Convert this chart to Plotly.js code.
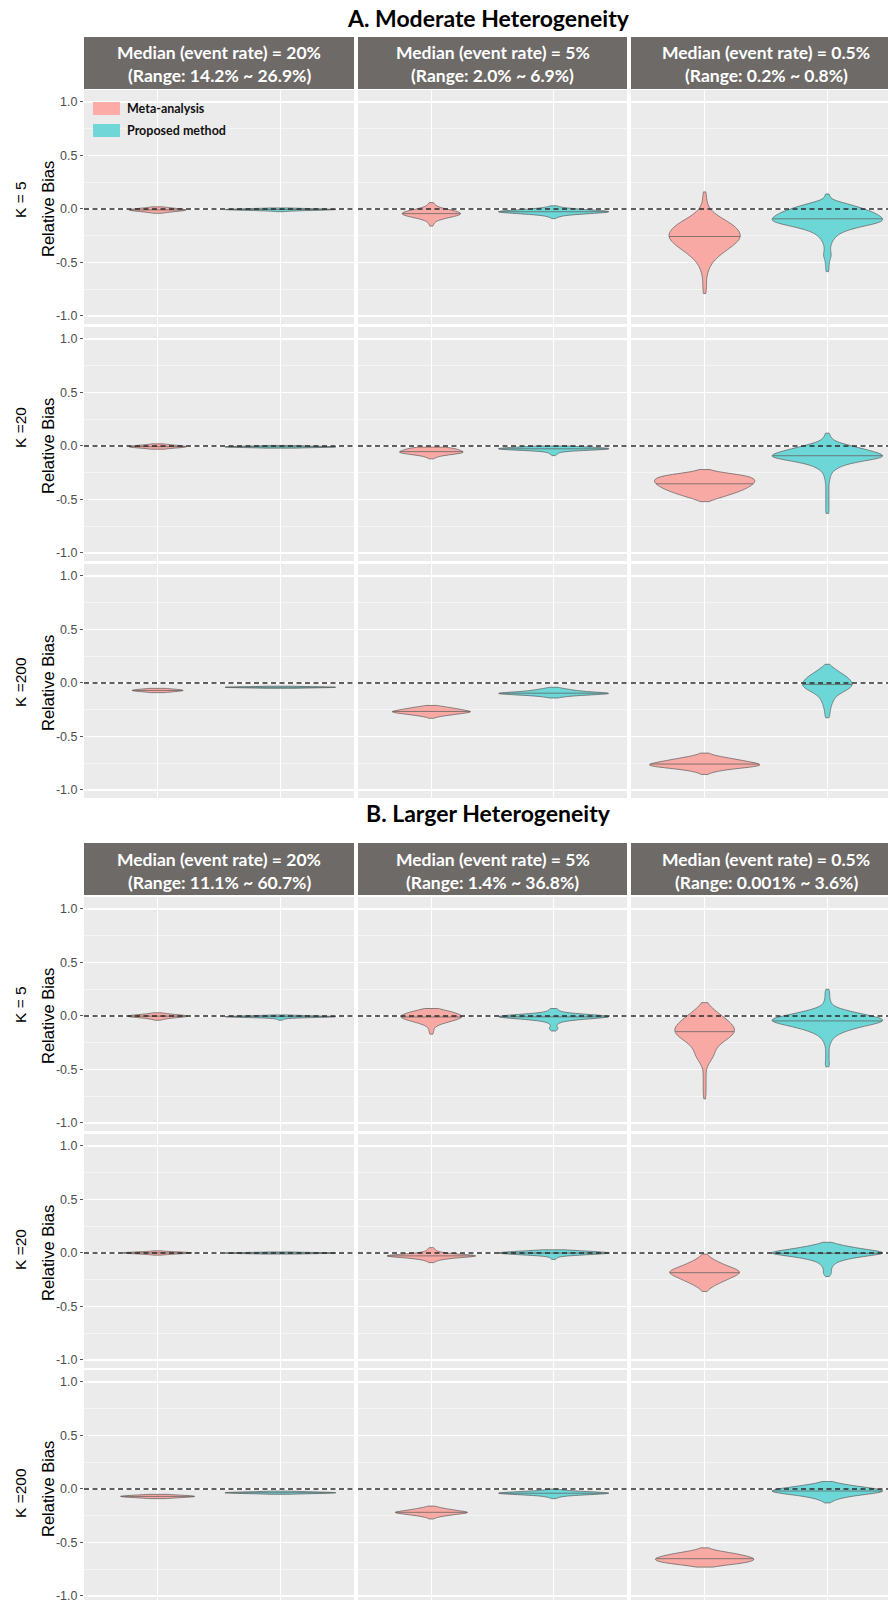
<!DOCTYPE html>
<html><head><meta charset="utf-8">
<script src="https://cdn.plot.ly/plotly-3.0.1.min.js"></script>
<style>html,body{margin:0;padding:0;background:#fff;} #chart{width:888px;height:1600px;}</style>
</head><body><div id="chart"></div>
<script>
// ---------------- data ----------------
const sectionTitles = ["A. Moderate Heterogeneity", "B. Larger Heterogeneity"];
const stripLine1 = ["Median (event rate) = 20%", "Median (event rate) = 5%", "Median (event rate) = 0.5%"];
const stripLine2Moderate = ["(Range: 14.2% ~ 26.9%)", "(Range: 2.0% ~ 6.9%)", "(Range: 0.2% ~ 0.8%)"];
const stripLine2Larger = ["(Range: 11.1% ~ 60.7%)", "(Range: 1.4% ~ 36.8%)", "(Range: 0.001% ~ 3.6%)"];
const rowLabels = ["K = 5", "K =20", "K =200"];
const methods = ["Meta-analysis", "Proposed method"];
const yAxisLabel = "Relative Bias";
const yTickVals = [-1, -0.5, 0, 0.5, 1];
const yTickText = ["-1.0", "-0.5", "0.0", "0.5", "1.0"];
const yMinorVals = [-0.75, -0.25, 0.25, 0.75];
const methodPos = [1, 2];

// Relative-bias distributions (value levels + counts).
// Panels in row order: (K=5, K=20, K=200) x (20%, 5%, 0.5%).
const moderateMetaLevels = [
  [0.02, 0.01, 0.0, -0.01, -0.02, -0.03, -0.04],
  [0.06, 0.04, 0.02, 0.0, -0.02, -0.04, -0.06, -0.08, -0.10, -0.12, -0.14, -0.16],
  [0.16, 0.11, 0.06, 0.01, -0.04, -0.09, -0.14, -0.19, -0.24, -0.29, -0.34, -0.39, -0.44, -0.49, -0.54, -0.59, -0.64, -0.69, -0.74, -0.79],
  [0.02, 0.01, 0.0, -0.01, -0.02, -0.03],
  [-0.01, -0.02, -0.03, -0.04, -0.05, -0.06, -0.07, -0.08, -0.09, -0.10, -0.11, -0.12],
  [-0.22, -0.245, -0.27, -0.295, -0.32, -0.345, -0.37, -0.395, -0.42, -0.445, -0.47, -0.495, -0.52],
  [-0.05, -0.06, -0.07, -0.08, -0.09],
  [-0.21, -0.22, -0.23, -0.24, -0.25, -0.26, -0.27, -0.28, -0.29, -0.30, -0.31, -0.32, -0.33],
  [-0.655, -0.675, -0.695, -0.715, -0.735, -0.755, -0.775, -0.795, -0.815, -0.835, -0.855]
];
const moderateMetaCounts = [
  [6, 20, 40, 50, 35, 15, 5],
  [4, 6, 10, 25, 45, 55, 50, 30, 14, 6, 4, 3],
  [3, 4, 5, 9, 20, 38, 60, 72, 80, 76, 62, 46, 30, 18, 11, 7, 4, 4, 4, 3],
  [6, 20, 45, 50, 25, 6],
  [25, 38, 45, 50, 55, 58, 50, 35, 20, 12, 7, 4],
  [6, 22, 70, 85, 90, 88, 82, 74, 64, 50, 36, 20, 5],
  [10, 40, 60, 35, 8],
  [8, 20, 32, 42, 52, 62, 70, 58, 44, 30, 18, 8, 3],
  [6, 14, 35, 55, 75, 95, 103, 60, 30, 12, 4]
];
const moderateProposedLevels = [
  [0.01, 0.005, 0.0, -0.005, -0.01, -0.015, -0.02, -0.025],
  [0.03, 0.02, 0.01, 0.0, -0.01, -0.02, -0.03, -0.04, -0.05, -0.06, -0.07, -0.08, -0.09],
  [0.14, 0.115, 0.09, 0.065, 0.04, 0.015, -0.01, -0.035, -0.06, -0.085, -0.11, -0.135, -0.16, -0.185, -0.21,
   -0.235, -0.26, -0.285, -0.31, -0.335, -0.36, -0.385, -0.41, -0.435, -0.46, -0.485, -0.51, -0.535, -0.56, -0.585],
  [0.005, 0.0, -0.005, -0.01, -0.015, -0.02],
  [0.0, -0.01, -0.02, -0.03, -0.04, -0.05, -0.06, -0.07, -0.08, -0.09],
  [0.12, 0.095, 0.07, 0.045, 0.02, -0.005, -0.03, -0.055, -0.08, -0.105, -0.13, -0.155, -0.18, -0.205, -0.23, -0.255,
   -0.28, -0.305, -0.33, -0.355, -0.38, -0.405, -0.43, -0.455, -0.48, -0.505, -0.53, -0.555, -0.58, -0.605, -0.63],
  [-0.03, -0.035, -0.04, -0.045, -0.05],
  [-0.04, -0.05, -0.06, -0.07, -0.08, -0.09, -0.10, -0.11, -0.12, -0.13, -0.14],
  [0.175, 0.15, 0.125, 0.1, 0.075, 0.05, 0.025, 0.0, -0.025, -0.05, -0.075, -0.1, -0.125, -0.15, -0.175, -0.2, -0.225, -0.25, -0.275, -0.3, -0.325]
];
const moderateProposedCounts = [
  [10, 40, 90, 110, 80, 40, 15, 5],
  [5, 10, 20, 40, 70, 95, 100, 70, 40, 20, 10, 6, 3],
  [4, 5, 7, 25, 45, 62, 78, 90, 100, 106, 110, 95, 70, 48, 32, 22, 16, 12, 9, 7, 6, 6, 7, 8, 6, 4, 4, 3, 3, 3],
  [10, 50, 100, 110, 60, 20],
  [20, 70, 100, 110, 60, 20, 10, 8, 5, 3],
  [4, 5, 8, 14, 30, 50, 70, 90, 105, 110, 80, 50, 30, 20, 12, 8, 6, 5, 4, 3, 3, 3, 3, 3, 3, 3, 3, 3, 3, 3, 3],
  [10, 50, 110, 55, 10],
  [6, 15, 25, 35, 50, 80, 103, 60, 30, 15, 5],
  [3, 8, 14, 20, 27, 33, 37, 40, 40, 36, 28, 20, 14, 11, 9, 7, 6, 5, 4, 4, 3]
];
const largerMetaLevels = [
  [0.03, 0.02, 0.01, 0.0, -0.01, -0.02, -0.03, -0.04],
  [0.07, 0.05, 0.03, 0.01, -0.01, -0.03, -0.05, -0.07, -0.09, -0.11, -0.13, -0.15, -0.17],
  [0.125, 0.075, 0.025, -0.025, -0.075, -0.125, -0.175, -0.225, -0.275, -0.325, -0.375, -0.425, -0.475, -0.525, -0.575, -0.625, -0.675, -0.725, -0.775],
  [0.02, 0.015, 0.01, 0.005, 0.0, -0.005, -0.01, -0.015, -0.02],
  [0.05, 0.04, 0.03, 0.02, 0.01, 0.0, -0.01, -0.02, -0.03, -0.04, -0.05, -0.06, -0.07, -0.08, -0.09],
  [-0.01, -0.035, -0.06, -0.085, -0.11, -0.135, -0.16, -0.185, -0.21, -0.235, -0.26, -0.285, -0.31, -0.335, -0.36],
  [-0.05, -0.06, -0.07, -0.08, -0.09],
  [-0.16, -0.17, -0.18, -0.19, -0.20, -0.21, -0.22, -0.23, -0.24, -0.25, -0.26, -0.27, -0.28],
  [-0.55, -0.57, -0.59, -0.61, -0.63, -0.65, -0.67, -0.69, -0.71, -0.73]
];
const largerMetaCounts = [
  [5, 15, 35, 55, 40, 20, 8, 4],
  [10, 28, 42, 52, 56, 48, 34, 20, 10, 5, 4, 4, 3],
  [5, 15, 30, 45, 58, 67, 62, 45, 28, 22, 20, 12, 4, 3, 3, 3, 3, 3, 2],
  [4, 10, 25, 40, 45, 35, 20, 10, 4],
  [4, 5, 6, 8, 12, 22, 40, 66, 74, 50, 30, 18, 10, 6, 4],
  [4, 8, 15, 24, 34, 46, 58, 63, 54, 44, 34, 24, 15, 8, 4],
  [8, 50, 85, 40, 6],
  [6, 14, 24, 36, 50, 64, 78, 62, 44, 28, 16, 8, 4],
  [6, 14, 40, 62, 78, 91, 88, 75, 40, 8]
];
const largerProposedLevels = [
  [0.01, 0.005, 0.0, -0.005, -0.01, -0.015, -0.02, -0.025, -0.03, -0.035, -0.04],
  [0.07, 0.055, 0.04, 0.025, 0.01, -0.005, -0.02, -0.035, -0.05, -0.065, -0.08, -0.095, -0.11, -0.125, -0.14],
  [0.25, 0.225, 0.2, 0.175, 0.15, 0.125, 0.1, 0.075, 0.05, 0.025, 0.0, -0.025, -0.05, -0.075, -0.1,
   -0.125, -0.15, -0.175, -0.2, -0.225, -0.25, -0.275, -0.3, -0.325, -0.35, -0.375, -0.4, -0.425, -0.45, -0.475],
  [0.01, 0.005, 0.0, -0.005, -0.01],
  [0.03, 0.02, 0.01, 0.0, -0.01, -0.02, -0.03, -0.04, -0.05, -0.06],
  [0.1, 0.08, 0.06, 0.04, 0.02, 0.0, -0.02, -0.04, -0.06, -0.08, -0.1, -0.12, -0.14, -0.16, -0.18, -0.2, -0.22],
  [-0.02, -0.025, -0.03, -0.035, -0.04, -0.045, -0.05],
  [0.0, -0.01, -0.02, -0.03, -0.04, -0.05, -0.06, -0.07, -0.08, -0.09],
  [0.07, 0.05, 0.03, 0.01, -0.01, -0.03, -0.05, -0.07, -0.09, -0.11, -0.13]
];
const largerProposedCounts = [
  [8, 30, 80, 105, 90, 50, 20, 10, 6, 4, 3],
  [6, 7, 10, 25, 65, 103, 70, 35, 15, 8, 5, 4, 7, 7, 3],
  [3, 4, 4, 4, 5, 6, 9, 18, 35, 55, 78, 98, 100, 82, 60, 42, 28, 18, 12, 8, 6, 4, 3, 3, 3, 3, 3, 3, 4, 3],
  [8, 40, 110, 60, 15],
  [10, 50, 75, 103, 75, 40, 12, 6, 5, 3],
  [5, 18, 35, 55, 80, 103, 75, 48, 30, 18, 12, 9, 7, 6, 7, 6, 3],
  [10, 40, 90, 110, 90, 40, 10],
  [6, 14, 35, 80, 109, 70, 30, 14, 7, 3],
  [6, 22, 45, 75, 100, 100, 65, 38, 20, 10, 4]
];

// ---------------- style / geometry ----------------
const W = 888, H = 1600;
const colPx = [[84, 354], [358, 627], [631, 901]];
const zeroPx = [[209, 446, 683], [1016, 1253, 1489]];
const kLabelPx = [[200, 428, 682], [1005, 1250, 1493]];
const PXU = 107, TOPV = 1.112, BOTV = 1.075;
const stripTop = [37, 843], stripH = 52;
const titleY = [18, 813];
const fills = ["#F9A9A3", "#6DD6D7"];
const legendFills = ["#FCABA7", "#70D6D7"];
const stripColor = "#6e6a68";
const panelBg = "#ebebeb";
const sansFont = "Liberation Sans, Arial, sans-serif";
const boldFont = "Lato, Open Sans, sans-serif";
const BW_OF_STEP = 0.8;

const sections = [
  [[moderateMetaLevels, moderateMetaCounts], [moderateProposedLevels, moderateProposedCounts]],
  [[largerMetaLevels, largerMetaCounts], [largerProposedLevels, largerProposedCounts]]
];
const stripLine2 = [stripLine2Moderate, stripLine2Larger];

const fx = px => px / W;
const fy = px => 1 - px / H;

function expand(levels, counts) {
  const out = [];
  levels.forEach((v, i) => { for (let k = 0; k < counts[i]; k++) out.push(v); });
  return out;
}
function stepOf(levels) { return Math.abs(levels[0] - levels[1]); }
function groupedMedian(levels, counts) {
  const step = stepOf(levels);
  const pairs = levels.map((v, i) => [v, counts[i]]).sort((a, b) => a[0] - b[0]);
  const N = counts.reduce((a, b) => a + b, 0);
  let cum = 0;
  for (const [v, c] of pairs) {
    if (cum + c >= N / 2) return v - step / 2 + (N / 2 - cum) / c * step;
    cum += c;
  }
  return pairs[pairs.length - 1][0];
}

const data = [];
const layout = {
  width: W, height: H,
  margin: {l: 0, r: 0, t: 0, b: 0, pad: 0},
  paper_bgcolor: "#ffffff", plot_bgcolor: panelBg,
  showlegend: false,
  violinmode: "overlay", violingap: 0.1, violingroupgap: 0,
  shapes: [], annotations: []
};
const stripShapes = [], legendShapes = [], zeroShapes = [];
const panelTraces = {};

for (let s = 0; s < 2; s++) {
  layout.annotations.push({
    xref: "paper", yref: "paper", x: fx(488), y: fy(titleY[s]), xanchor: "center", yanchor: "middle",
    text: "<b>" + sectionTitles[s] + "</b>", showarrow: false,
    font: {family: boldFont, size: 23, color: "#000"}
  });
  for (let c = 0; c < 3; c++) {
    const [c0, c1] = colPx[c];
    stripShapes.push({type: "rect", xref: "paper", yref: "paper",
      x0: fx(c0), x1: fx(Math.min(c1, W)), y0: fy(stripTop[s] + stripH), y1: fy(stripTop[s]),
      fillcolor: stripColor, line: {width: 0}});
    const cx = fx((c0 + c1) / 2);
    layout.annotations.push({xref: "paper", yref: "paper", x: cx, y: fy(stripTop[s] + 16),
      xanchor: "center", yanchor: "middle", showarrow: false, text: "<b>" + stripLine1[c] + "</b>",
      font: {family: boldFont, size: 17.5, color: "#ffffff"}});
    layout.annotations.push({xref: "paper", yref: "paper", x: cx, y: fy(stripTop[s] + 39),
      xanchor: "center", yanchor: "middle", showarrow: false, text: "<b>" + stripLine2[s][c] + "</b>",
      font: {family: boldFont, size: 17.5, color: "#ffffff"}});
  }
  for (let r = 0; r < 3; r++) {
    const z = zeroPx[s][r];
    const top = z - TOPV * PXU;
    const bot = Math.min(z + BOTV * PXU, H);
    layout.annotations.push({xref: "paper", yref: "paper", x: fx(20), y: fy(kLabelPx[s][r]), xanchor: "center", yanchor: "middle",
      text: rowLabels[r], textangle: -90, showarrow: false, font: {family: sansFont, size: 15.5, color: "#000"}});
    layout.annotations.push({xref: "paper", yref: "paper", x: fx(48), y: fy(z), xanchor: "center", yanchor: "middle",
      text: yAxisLabel, textangle: -90, showarrow: false, font: {family: sansFont, size: 16.5, color: "#000"}});
    for (let c = 0; c < 3; c++) {
      const n = s * 9 + r * 3 + c + 1;
      const [c0, c1] = colPx[c];
      const cr = Math.min(c1, W);
      layout["xaxis" + n] = {
        domain: [fx(c0), fx(cr)], anchor: "y" + n,
        range: [0.4, 0.4 + 2.2 * (cr - c0) / (c1 - c0)],
        tickmode: "array", tickvals: methodPos, showticklabels: false, ticks: "",
        showgrid: true, gridcolor: "#ffffff", gridwidth: 1.1, zeroline: false, showline: false, fixedrange: true
      };
      layout["yaxis" + n] = {
        domain: [fy(bot), fy(top)], anchor: "x" + n,
        range: [-(bot - z) / PXU, (z - top) / PXU],
        tickmode: "array", tickvals: yTickVals, ticktext: yTickText,
        showticklabels: c === 0, ticks: c === 0 ? "outside" : "", ticklen: 3, tickwidth: 1, tickcolor: "#555",
        ticklabeloverflow: "allow",
        tickfont: {family: sansFont, size: 12.5, color: "#4d4d4d"},
        showgrid: true, gridcolor: "#ffffff", gridwidth: 1.1, zeroline: false, showline: false, fixedrange: true,
        minor: {tickmode: "array", tickvals: yMinorVals, showgrid: true, gridcolor: "#ffffff", gridwidth: 0.5, ticks: ""}
      };
      panelTraces[n] = [];
      for (let m = 0; m < 2; m++) {
        const levels = sections[s][m][0][r * 3 + c];
        const counts = sections[s][m][1][r * 3 + c];
        panelTraces[n].push({idx: data.length, med: groupedMedian(levels, counts)});
        data.push({
          type: "violin", name: methods[m], y: expand(levels, counts), x0: methodPos[m],
          xaxis: "x" + n, yaxis: "y" + n,
          points: false, spanmode: "hard", scalegroup: "p" + n, scalemode: "width",
          bandwidth: BW_OF_STEP * stepOf(levels),
          fillcolor: fills[m], line: {color: "#5a5a5a", width: 0.7},
          box: {visible: false}, meanline: {visible: false},
          hoverinfo: "skip", showlegend: false
        });
      }
      zeroShapes.push({type: "line", xref: "x" + n + " domain", yref: "y" + n, x0: 0, x1: 1, y0: 0, y1: 0,
        line: {color: "#2b2b2b", width: 1.5, dash: "5px,3.5px"}});
    }
  }
}

// legend (inside first panel)
const legendRows = [[102, 115], [124, 137]];
for (let m = 0; m < 2; m++) {
  legendShapes.push({type: "rect", xref: "paper", yref: "paper",
    x0: fx(93), x1: fx(120), y0: fy(legendRows[m][1]), y1: fy(legendRows[m][0]),
    fillcolor: legendFills[m], line: {width: 0}});
  layout.annotations.push({xref: "paper", yref: "paper", x: fx(125), y: fy((legendRows[m][0] + legendRows[m][1]) / 2),
    xanchor: "left", yanchor: "middle", showarrow: false, text: "<b>" + methods[m] + "</b>",
    font: {family: boldFont, size: 12.5, color: "#111"}});
}

layout.shapes = stripShapes.concat(legendShapes, zeroShapes);

const gd = document.getElementById("chart");
Plotly.newPlot(gd, data, layout, {staticPlot: true, displayModeBar: false}).then(() => {
  try {
    const medShapes = [];
    Object.keys(panelTraces).forEach(n => {
      const list = panelTraces[n];
      let maxKDE = 0;
      list.forEach(p => { gd.calcdata[p.idx][0].density.forEach(d => { maxKDE = Math.max(maxKDE, d.v); }); });
      list.forEach(p => {
        const cd0 = gd.calcdata[p.idx][0];
        const dens = cd0.density;
        let v = dens[0].v;
        for (let k = 0; k < dens.length - 1; k++) {
          const a = dens[k], b = dens[k + 1];
          if ((p.med - a.t) * (p.med - b.t) <= 0) {
            const f = b.t === a.t ? 0 : (p.med - a.t) / (b.t - a.t);
            v = a.v + f * (b.v - a.v); break;
          }
        }
        const half = v / maxKDE * cd0.t.bdPos;
        const pos = cd0.pos + (cd0.t.bPos || 0);
        medShapes.push({type: "line", xref: "x" + n, yref: "y" + n, x0: pos - half, x1: pos + half,
          y0: p.med, y1: p.med, line: {color: "#666", width: 0.8}});
      });
    });
    Plotly.relayout(gd, {shapes: stripShapes.concat(legendShapes, medShapes, zeroShapes)});
  } catch (e) {
    Plotly.restyle(gd, {"meanline.visible": true, "meanline.color": "#666", "meanline.width": 0.8});
  }
});
</script>
</body></html>
